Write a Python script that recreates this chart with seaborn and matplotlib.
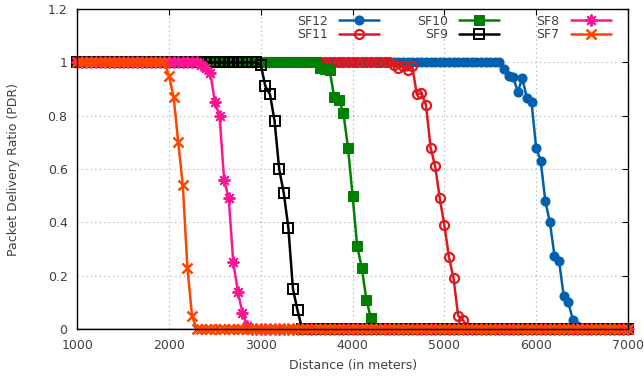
import numpy as np
import seaborn as sns
import matplotlib.pyplot as plt

# distances (m) sampled every 50 m
distance = np.arange(1000, 7001, 50)

# PDR values (plateaus of 1 and 0 around the drop)
sf12 = [1] * 93 + [0.975, 0.95, 0.945, 0.89, 0.94, 0.865, 0.85, 0.68, 0.63, 0.48,
                   0.40, 0.275, 0.255, 0.125, 0.10, 0.035, 0.01] + [0] * 11
sf11 = [1] * 69 + [0.99, 0.98, 0.985, 0.97, 0.985, 0.88, 0.885, 0.84, 0.68, 0.61,
                   0.49, 0.39, 0.27, 0.19, 0.05, 0.035, 0.005] + [0] * 35
sf10 = [1] * 53 + [0.98, 0.975, 0.97, 0.87, 0.86, 0.81, 0.68, 0.50, 0.31, 0.23,
                   0.11, 0.04, 0.005] + [0] * 55
sf9 = [1] * 40 + [0.99, 0.91, 0.88, 0.78, 0.60, 0.51, 0.38, 0.15, 0.07] + [0] * 72
sf8 = [1] * 27 + [0.99, 0.98, 0.96, 0.85, 0.80, 0.56, 0.49, 0.25, 0.14, 0.06,
                  0.01] + [0] * 83
sf7 = [1] * 20 + [0.95, 0.87, 0.70, 0.54, 0.23, 0.05] + [0] * 95

labels = ['SF12', 'SF11', 'SF10', 'SF9', 'SF8', 'SF7']
series = [sf12, sf11, sf10, sf9, sf8, sf7]
colors = ['#0060ad', '#dd181f', '#008000', '#000000', '#ff1493', '#ff4500']
styles = [
    dict(marker='o', markersize=6.5),
    dict(marker='o', markersize=6.5, markerfacecolor='none', markeredgewidth=1.6),
    dict(marker='s', markersize=6.5),
    dict(marker='s', markersize=6.5, markerfacecolor='none', markeredgewidth=1.4),
    dict(marker=(8, 2, 0), markersize=8.5, markeredgewidth=1.4),
    dict(marker='x', markersize=6.5, markeredgewidth=1.8),
]

sns.set_style('white')
plt.rcParams['font.family'] = ['DejaVu Sans']
plt.rcParams['text.color'] = '#404040'
plt.rcParams['xtick.color'] = '#404040'
plt.rcParams['ytick.color'] = '#404040'
plt.rcParams['axes.labelcolor'] = '#404040'

fig, ax = plt.subplots(figsize=(6.44, 3.79), dpi=100)
fig.subplots_adjust(left=0.12, right=0.975, bottom=0.132, top=0.976)

for lab, vals, col, st in zip(labels, series, colors, styles):
    sns.lineplot(x=distance, y=vals, ax=ax, color=col, linewidth=1.8,
                 label=lab, clip_on=False, markeredgecolor=col, **st)

ax.set_xlim(1000, 7000)
ax.set_ylim(0, 1.2)
ax.set_xticks(range(1000, 7001, 1000))
ax.set_yticks([0, 0.2, 0.4, 0.6, 0.8, 1.0, 1.2])
ax.set_yticklabels(['0', '0.2', '0.4', '0.6', '0.8', '1', '1.2'])
ax.tick_params(direction='in', top=True, right=True, labelsize=9, length=4,
               color='black', pad=7)
ax.grid(True, linestyle=(0, (1, 3)), color='#a8a8a8', linewidth=0.8)
ax.axhline(0, color='black', linewidth=1, zorder=1)
for s in ax.spines.values():
    s.set_color('black')
    s.set_linewidth(1)

ax.set_xlabel('Distance (in meters)', fontsize=9, labelpad=5)
ax.set_ylabel('Packet Delivery Ratio (PDR)', fontsize=9, labelpad=20)

ax.legend(loc='upper right', bbox_to_anchor=(0.985, 1.01), ncol=3,
          markerfirst=False, frameon=False, fontsize=9, handlelength=3.2,
          columnspacing=3.0, labelspacing=0.05, handletextpad=0.9,
          borderaxespad=0.3)

plt.savefig('out.png', dpi=100)
